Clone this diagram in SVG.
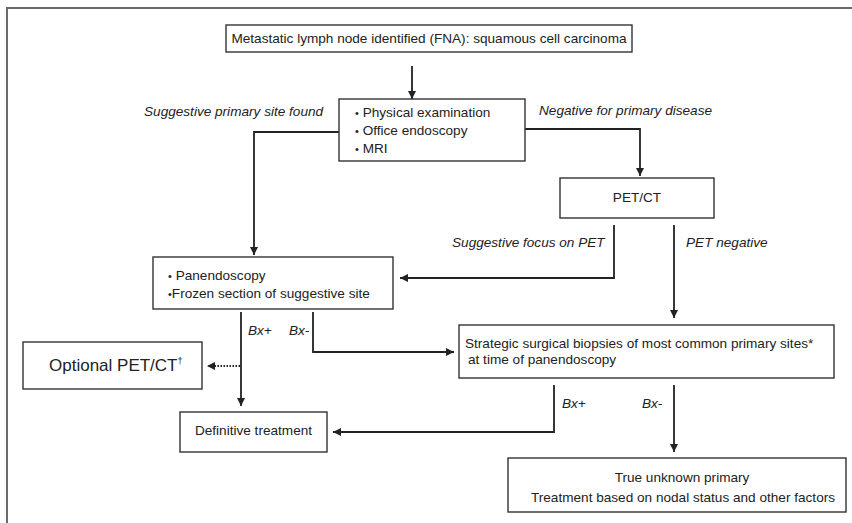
<svg xmlns="http://www.w3.org/2000/svg" width="852" height="523" viewBox="0 0 852 523">
<defs>
<style>
.box{fill:#fff;stroke:#333;stroke-width:1.4}
.t{font-family:"Liberation Sans",Arial,sans-serif;font-size:13.6px;fill:#222}
.i{font-style:italic}
.c{text-anchor:middle}
.b{font-size:11px}
.ln{fill:none;stroke:#222;stroke-width:1.8}
.dot{fill:none;stroke:#222;stroke-width:1.8;stroke-dasharray:1.5 1.5}
.frame{fill:none;stroke:#6b6b6b;stroke-width:2}
</style>
<marker id="ah" viewBox="0 0 10 10" refX="10" refY="5" markerWidth="4.5" markerHeight="4.5" orient="auto" markerUnits="strokeWidth">
<path d="M0,0 L10,5 L0,10 z" fill="#222"/>
</marker>
</defs>
<rect width="852" height="523" fill="#fff"/>
<path class="frame" d="M7,523 V8 H852"/>

<g id="connectors">
<path class="ln" d="M412,66 V99" marker-end="url(#ah)"/>
<path class="ln" d="M339,132 H254 V255" marker-end="url(#ah)"/>
<path class="ln" d="M525,129 H640 V176" marker-end="url(#ah)"/>
<path class="ln" d="M614,225 V278 H400" marker-end="url(#ah)"/>
<path class="ln" d="M674,225 V318" marker-end="url(#ah)"/>
<path class="ln" d="M241,312 V406" marker-end="url(#ah)"/>
<path class="dot" d="M240,366 H207" marker-end="url(#ah)"/>
<path class="ln" d="M313,312 V352 H454" marker-end="url(#ah)"/>
<path class="ln" d="M554,385 V432 H333" marker-end="url(#ah)"/>
<path class="ln" d="M674,385 V452" marker-end="url(#ah)"/>
</g>

<g id="labels">
<text class="t i" x="144" y="116">Suggestive primary site found</text>
<text class="t i" x="539" y="115">Negative for primary disease</text>
<text class="t i" x="452" y="247">Suggestive focus on PET</text>
<text class="t i" x="686" y="247">PET negative</text>
<text class="t i" x="248" y="335">Bx+</text>
<text class="t i" x="289" y="335">Bx-</text>
<text class="t i" x="562" y="408">Bx+</text>
<text class="t i" x="642" y="408">Bx-</text>
</g>

<g id="n-fna">
<rect class="box" x="226" y="25" width="406" height="27"/>
<text class="t c" x="429" y="43">Metastatic lymph node identified (FNA): squamous cell carcinoma</text>
</g>

<g id="n-exam">
<rect class="box" x="339" y="99" width="186" height="62"/>
<text class="t" x="355" y="117"><tspan class="b">•</tspan> Physical examination</text>
<text class="t" x="355" y="135"><tspan class="b">•</tspan> Office endoscopy</text>
<text class="t" x="355" y="153"><tspan class="b">•</tspan> MRI</text>
</g>

<g id="n-petct">
<rect class="box" x="560" y="178" width="154" height="40"/>
<text class="t c" x="637" y="202">PET/CT</text>
</g>

<g id="n-panendo">
<rect class="box" x="153" y="257" width="240" height="52"/>
<text class="t" x="168" y="280"><tspan class="b">•</tspan> Panendoscopy</text>
<text class="t" x="168" y="298"><tspan class="b">•</tspan>Frozen section of suggestive site</text>
</g>

<g id="n-optional">
<rect class="box" x="23" y="342" width="179" height="47"/>
<text class="t" x="49" y="371" style="font-size:17px">Optional PET/CT<tspan style="font-size:9px" dy="-7">†</tspan></text>
</g>

<g id="n-strategic">
<rect class="box" x="459" y="325" width="375" height="53"/>
<text class="t" x="465" y="348">Strategic surgical biopsies of most common primary sites*</text>
<text class="t" x="468" y="364">at time of panendoscopy</text>
</g>

<g id="n-definitive">
<rect class="box" x="180" y="412" width="147" height="40"/>
<text class="t c" x="253.5" y="435">Definitive treatment</text>
</g>

<g id="n-unknown">
<rect class="box" x="508" y="458" width="338" height="54"/>
<text class="t c" x="682" y="482">True unknown primary</text>
<text class="t c" x="683" y="502">Treatment based on nodal status and other factors</text>
</g>
</svg>
